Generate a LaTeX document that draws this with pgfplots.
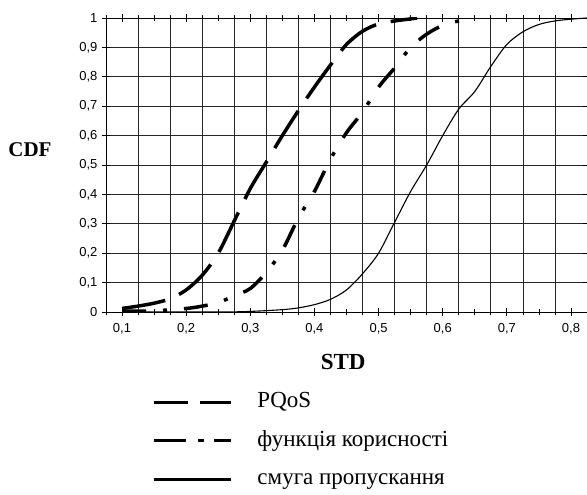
\documentclass[border=0pt]{standalone}
\usepackage{fontspec}
\setmainfont{Liberation Serif}
\setsansfont{Liberation Sans}
\usepackage{pgfplots}
\pgfplotsset{compat=1.18}

\begin{document}
\begin{tikzpicture}[x=1pt,y=1pt]
\useasboundingbox (0,0) rectangle (587,495);
\begin{axis}[
  at={(106pt,183pt)}, anchor=south west,
  scale only axis, width=481pt, height=294pt,
  xmin=0.075, xmax=0.825, ymin=0, ymax=1,
  xtick={0.1,0.2,0.3,0.4,0.5,0.6,0.7,0.8},
  minor xtick={0.075,0.1,0.125,0.15,0.175,0.2,0.225,0.25,0.275,0.3,0.325,0.35,0.375,0.4,0.425,0.45,0.475,0.5,0.525,0.55,0.575,0.6,0.625,0.65,0.675,0.7,0.725,0.75,0.775,0.8,0.825},
  extra x ticks={0.125,0.175,0.225,0.275,0.325,0.375,0.425,0.475,0.525,0.575,0.625,0.675,0.725,0.775},
  extra x tick labels={},
  extra x tick style={grid=major, major tick length=0pt},
  ytick={0,0.1,0.2,0.3,0.4,0.5,0.6,0.7,0.8,0.9,1},
  ymajorgrids,
  grid style={black!85, line width=0.7pt},
  axis line style={black, line width=0.8pt},
  tick style={black, line width=0.7pt},
  tick align=center,
  major tick length=8pt, minor tick length=6pt,
  xticklabel style={yshift=-4pt},
  yticklabel style={xshift=-1pt},
  tick label style={font=\sffamily\fontsize{13}{13}\selectfont},
  /pgf/number format/assume math mode=true,
  /pgf/number format/.cd, fixed, precision=1, use comma, /tikz/.cd,
  xlabel={\textbf{STD}},
  ylabel={\textbf{CDF}},
  every axis x label/.style={at={(rel axis cs:0.493,-0.170)}, anchor=center, font=\fontsize{23}{23}\selectfont},
  every axis y label/.style={at={(rel axis cs:-0.158,0.551)}, anchor=center, font=\fontsize{21}{21}\selectfont},
  legend style={at={(rel axis cs:0.09,-0.257)}, anchor=north west, draw=none, fill=none,
    font=\fontsize{23}{23}\selectfont, row sep=13.5pt, column sep=23pt,
    nodes={inner sep=2pt, text height=16pt, text depth=5pt}},
  legend cell align=left,
  legend image code/.code={\draw[#1] (0pt,0pt) -- (77pt,0pt);},
]
\addlegendimage{black, line width=3pt, dash pattern=on 34pt off 12pt}
\addlegendentry{PQoS}
\addlegendimage{black, line width=3pt, dash pattern=on 32pt off 12pt on 6pt off 10pt}
\addlegendentry{функція корисності}
\addlegendimage{black, line width=3pt}
\addlegendentry{смуга пропускання}

\addplot[forget plot, black, line width=3.5pt, dash pattern=on 44pt off 15pt, smooth] coordinates {
  (0.100,0.012) (0.125,0.020) (0.150,0.030) (0.175,0.045) (0.200,0.075)
  (0.225,0.125) (0.250,0.200) (0.275,0.310) (0.300,0.420) (0.325,0.510)
  (0.350,0.600) (0.375,0.685) (0.400,0.765) (0.425,0.840) (0.450,0.910)
  (0.475,0.955) (0.500,0.980) (0.525,0.990) (0.550,0.997) (0.560,1.000)
};
\addplot[forget plot, black, line width=3.5pt, dash pattern=on 24pt off 17pt on 4pt off 17pt, smooth] coordinates {
  (0.100,0.003) (0.150,0.004) (0.200,0.012) (0.225,0.020) (0.250,0.032)
  (0.275,0.055) (0.300,0.080) (0.325,0.135) (0.350,0.210) (0.375,0.320)
  (0.400,0.410) (0.425,0.520) (0.450,0.610) (0.475,0.680) (0.500,0.765)
  (0.525,0.830) (0.550,0.900) (0.575,0.945) (0.600,0.975) (0.625,0.990)
  (0.650,1.000)
};
\addplot[forget plot, black, line width=1.1pt, smooth] coordinates {
  (0.100,0.000) (0.250,0.000) (0.300,0.002) (0.350,0.008) (0.375,0.014)
  (0.400,0.025) (0.425,0.043) (0.450,0.075) (0.475,0.130) (0.500,0.200)
  (0.525,0.305) (0.550,0.410) (0.575,0.500) (0.600,0.600) (0.625,0.690)
  (0.650,0.750) (0.675,0.835) (0.700,0.910) (0.725,0.953) (0.750,0.978)
  (0.775,0.990) (0.800,0.996) (0.825,1.000)
};
\end{axis}
\end{tikzpicture}
\end{document}
